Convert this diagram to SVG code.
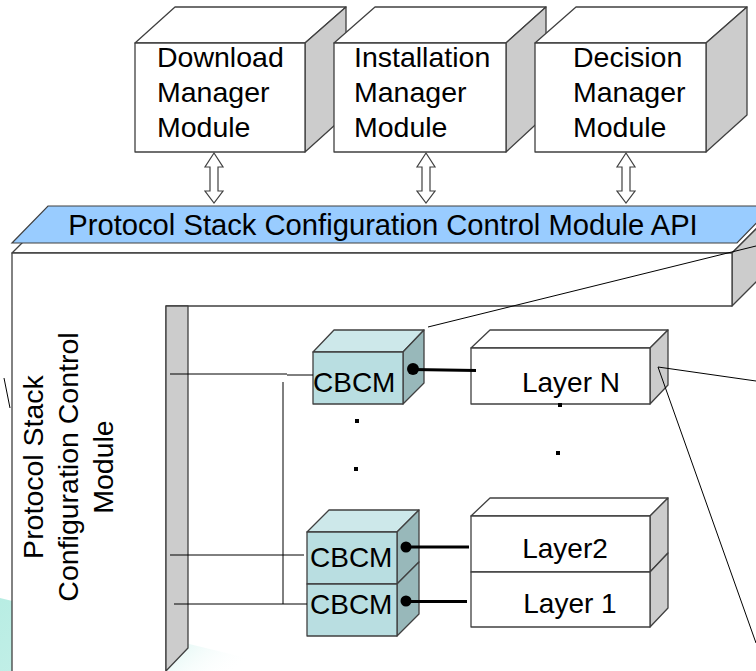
<svg xmlns="http://www.w3.org/2000/svg" width="756" height="671" viewBox="0 0 756 671">
<defs>
<linearGradient id="teal" x1="0" y1="0" x2="1" y2="0.3">
<stop offset="0" stop-color="#B8EDE3"/>
<stop offset="0.6" stop-color="#C8F0EA"/>
<stop offset="1" stop-color="#FFFFFF" stop-opacity="0"/>
</linearGradient>
<style>
text{font-family:"Liberation Sans",Arial,sans-serif;fill:#000}
.t{font-size:28.5px}
.e{stroke:#404040;stroke-width:1.3;stroke-linejoin:round}
.w{fill:#fff}
.g{fill:#CCCCCC}
.cf{fill:#B9DEE1}
.ct{fill:#CDE8EA}
.cs{fill:#98B8BA}
.thin{stroke:#000;stroke-width:1;fill:none}
.thick{stroke:#000;stroke-width:3;fill:none}
.arr{fill:#fff;stroke:#404040;stroke-width:1.2}
</style>
</defs>
<rect width="756" height="671" fill="#fff"/>
<path d="M0,598 L300,671 L0,671 Z" fill="url(#teal)"/>

<g id="download">
<polygon class="e w" points="135,43 175,7 346,7 305,43"/>
<polygon class="e g" points="305,43 346,7 346,115 305,152"/>
<rect class="e w" x="135" y="43" width="170" height="109"/>
<text class="t" x="157" y="67">Download</text>
<text class="t" x="157" y="102">Manager</text>
<text class="t" x="157" y="137">Module</text>
</g>
<g id="installation">
<polygon class="e w" points="334,43 375,7 546,7 506,43"/>
<polygon class="e g" points="506,43 546,7 546,115 506,152"/>
<rect class="e w" x="334" y="43" width="172" height="109"/>
<text class="t" x="354" y="67">Installation</text>
<text class="t" x="354" y="102">Manager</text>
<text class="t" x="354" y="137">Module</text>
</g>
<g id="decision">
<polygon class="e w" points="535,43 576,7 747,7 706,43"/>
<polygon class="e g" points="706,43 747,7 747,115 706,152"/>
<rect class="e w" x="535" y="43" width="171" height="109"/>
<text class="t" x="573" y="67">Decision</text>
<text class="t" x="573" y="102">Manager</text>
<text class="t" x="573" y="137">Module</text>
</g>

<g id="pscm">
<polygon class="e w" points="12,253 48,217 768,217 732,253"/>
<polygon class="e g" points="732,253 768,217 768,270 732,306"/>
<path class="e w" d="M12,671 L12,253 L732,253 L732,306 L166,306 L166,671"/>
<polygon class="e g" points="166,306 188,306 188,648 166,671"/>
<g class="t" text-anchor="middle">
<text x="43" y="467" transform="rotate(-90 43 467)">Protocol Stack</text>
<text x="78" y="467" transform="rotate(-90 78 467)">Configuration Control</text>
<text x="113" y="467" transform="rotate(-90 113 467)">Module</text>
</g>
</g>

<g id="api">
<polygon points="48,206 773,206 737,243 12,243" fill="#99CCFF" stroke="#404040" stroke-width="1.2"/>
<text class="t" x="383" y="235" text-anchor="middle" style="font-size:29.2px">Protocol Stack Configuration Control Module API</text>
</g>

<g id="cbcm-n">
<polygon class="e ct" points="313,352 334,330 424,330 403,352"/>
<polygon class="e cs" points="403,352 424,330 424,383 403,404"/>
<rect class="e cf" x="313" y="352" width="90" height="52"/>
<text class="t" x="313" y="392" style="font-size:28px">CBCM</text>
</g>
<g id="cbcm-2">
<polygon class="e ct" points="307,532 329,510 419,510 397,532"/>
<polygon class="e cs" points="397,532 419,510 419,562 397,584"/>
<rect class="e cf" x="307" y="532" width="90" height="52"/>
<text class="t" x="310" y="567" style="font-size:28px">CBCM</text>
</g>
<g id="cbcm-1">
<polygon class="e cs" points="397,584 419,562 419,614 397,636"/>
<rect class="e cf" x="307" y="584" width="90" height="52"/>
<text class="t" x="310" y="614" style="font-size:28px">CBCM</text>
</g>

<g id="layer-n">
<polygon class="e w" points="471,348 490,330 668,330 650,348"/>
<polygon class="e g" points="650,348 668,330 668,385 650,404"/>
<rect class="e w" x="471" y="348" width="179" height="56"/>
<text class="t" x="571" y="392" text-anchor="middle" style="font-size:28px">Layer N</text>
</g>
<g id="layer-2">
<polygon class="e w" points="471,516 490,498 668,498 650,516"/>
<polygon class="e g" points="650,516 668,498 668,553 650,572"/>
<rect class="e w" x="471" y="516" width="179" height="56"/>
<text class="t" x="565" y="558" text-anchor="middle" style="font-size:28px">Layer2</text>
</g>
<g id="layer-1">
<polygon class="e g" points="650,572 668,553 668,608 650,627"/>
<rect class="e w" x="471" y="572" width="179" height="55"/>
<text class="t" x="570" y="613" text-anchor="middle" style="font-size:28px">Layer 1</text>
</g>

<g id="dots" fill="#000">
<rect x="355" y="419" width="4" height="4"/>
<rect x="354" y="467" width="4" height="4"/>
<rect x="558" y="403" width="4" height="4"/>
<rect x="556" y="451" width="4" height="4"/>
</g>

<g id="connectors">
<path class="arr" d="M214,153 L223,167 L218,167 L218,191 L223,191 L214,203 L205,191 L210,191 L210,167 L205,167 Z"/>
<path class="arr" d="M426,153 L435,167 L430,167 L430,191 L435,191 L426,203 L417,191 L422,191 L422,167 L417,167 Z"/>
<path class="arr" d="M626,153 L635,167 L630,167 L630,191 L635,191 L626,203 L617,191 L622,191 L622,167 L617,167 Z"/>
<path class="thin" d="M170,374 L287,374"/>
<path class="thin" d="M287,375 L313,375" stroke-width="1.6"/>
<path class="thin" d="M170,555 L304,555"/>
<path class="thin" d="M174,604 L307,604"/>
<path class="thin" d="M283,382 L283,604" stroke-width="1.6"/>
<circle cx="413" cy="369" r="6"/>
<path class="thick" d="M413,369.5 L476,370.5"/>
<circle cx="406" cy="547" r="5.5"/>
<path class="thick" d="M406,547 L469,547"/>
<circle cx="406" cy="601" r="5.5"/>
<path class="thick" d="M406,601.5 L467,601.5"/>
<path class="thin" d="M428,327 L756,246" stroke-width="1.4"/>
<path class="thin" d="M658,367 L756,381" stroke-width="1.4"/>
<path class="thin" d="M658,367 L756,643" stroke-width="1.4"/>
<path class="thin" d="M4,378 L10,408" stroke-width="1.4"/>
</g>
</svg>
